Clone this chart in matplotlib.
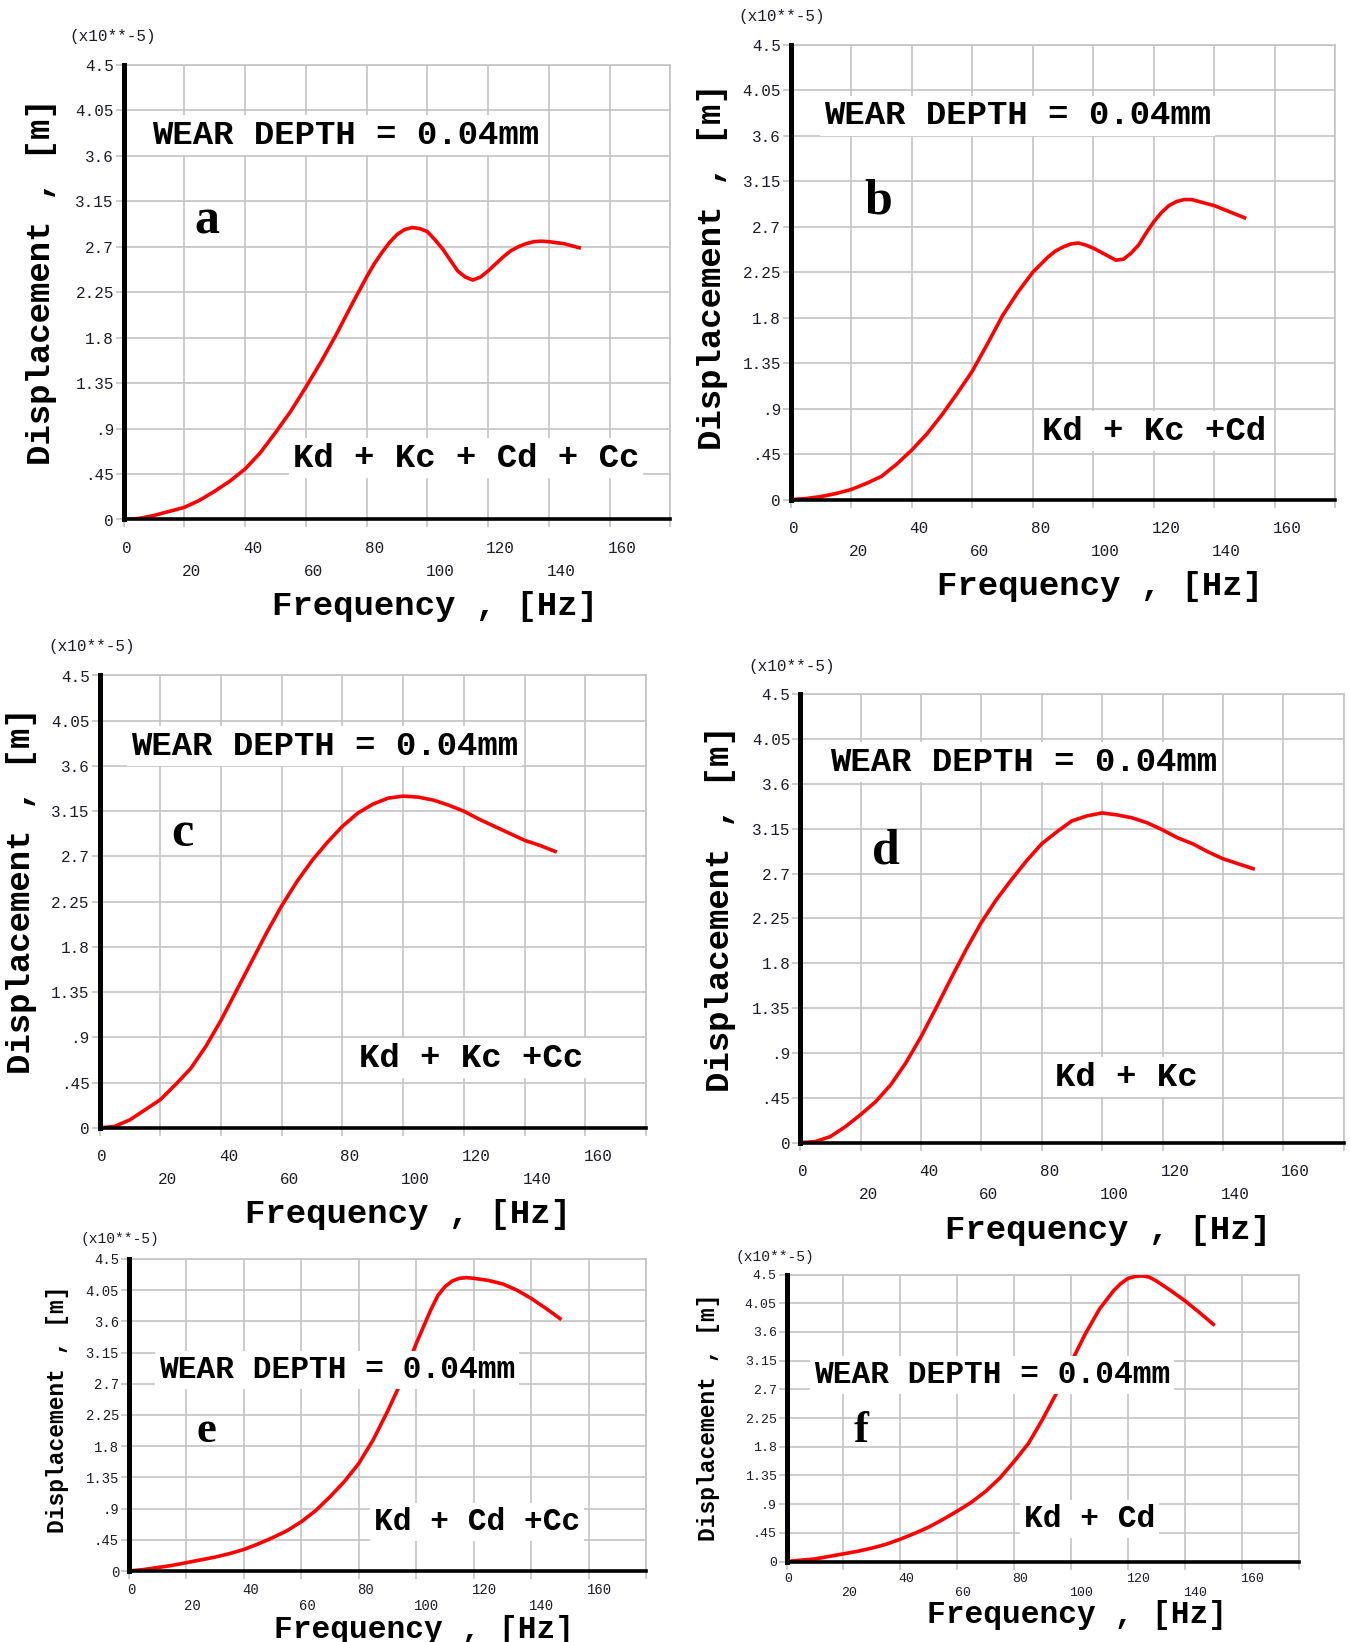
import matplotlib
matplotlib.use("Agg")
import matplotlib.pyplot as plt

W, H = 1350, 1642
MONO = "Liberation Mono"
SERIF = "Liberation Serif"
GRID = "#c4c4c4"
INK = "#1c1c28"

# frequency samples (Hz); denser where the curve bends
FREQ_HZ = [0, 5, 10, 15, 20, 25, 30, 35, 40, 45, 50, 55, 60, 65, 70, 75,
           80, 85, 90, 95, 100, 105, 110, 115, 120, 125, 130, 135, 140, 145, 150]
FREQ_A = [0, 5, 10, 15, 20, 25, 30, 35, 40, 45, 50, 55, 60, 65, 70, 75, 80,
          82.5, 85, 87.5, 90, 92.5, 95, 97.5, 100, 102.5, 105, 107.5, 110, 112.5, 115,
          117.5, 120, 122.5, 125, 127.5, 130, 132.5, 135, 137.5, 140, 145, 150]
FREQ_B = [0, 5, 10, 15, 20, 25, 30, 35, 40, 45, 50, 55, 60, 65, 70, 75, 80, 85,
          87.5, 90, 92.5, 95, 97.5, 100, 102.5, 105, 107.5, 110, 112.5, 115, 117.5,
          120, 122.5, 125, 127.5, 130, 132.5, 135, 140, 145, 150]
FREQ_E = [0, 5, 10, 15, 20, 25, 30, 35, 40, 45, 50, 55, 60, 65, 70, 75, 80, 85,
          90, 95, 100, 105, 107.5, 110, 112.5, 115, 117.5, 120, 125, 130, 135, 140, 145, 150]
FREQ_F = [0, 5, 10, 15, 20, 25, 30, 35, 40, 45, 50, 55, 60, 65, 70, 75, 80, 85,
          90, 95, 100, 105, 110, 115, 117.5, 120, 122.5, 125, 127.5, 130, 135, 140, 145, 150]

# displacement (x10**-5 m), one list per panel
DISP_A = [0, 0.01, 0.04, 0.08, 0.12, 0.19, 0.28, 0.38, 0.50, 0.66, 0.86, 1.07, 1.31, 1.56, 1.83, 2.12, 2.40,
          2.53, 2.64, 2.74, 2.82, 2.87, 2.89, 2.88, 2.85, 2.77, 2.68, 2.57, 2.46, 2.40, 2.37,
          2.40, 2.46, 2.53, 2.60, 2.66, 2.70, 2.73, 2.75, 2.755, 2.75, 2.73, 2.69]
DISP_B = [0, 0.01, 0.03, 0.06, 0.10, 0.16, 0.23, 0.35, 0.49, 0.65, 0.84, 1.05, 1.27, 1.54, 1.82, 2.05, 2.25, 2.40,
          2.46, 2.50, 2.53, 2.54, 2.52, 2.49, 2.45, 2.41, 2.37, 2.38, 2.44, 2.52, 2.64,
          2.75, 2.84, 2.91, 2.95, 2.97, 2.97, 2.95, 2.91, 2.85, 2.79]
DISP_C = [0, 0.015, 0.08, 0.18, 0.28, 0.43, 0.59, 0.81, 1.07, 1.36, 1.65, 1.94, 2.21, 2.45, 2.66, 2.84,
          3.00, 3.13, 3.22, 3.28, 3.30, 3.29, 3.26, 3.21, 3.15, 3.07, 3.00, 2.93, 2.86, 2.81, 2.75]
DISP_D = [0, 0.01, 0.06, 0.16, 0.28, 0.41, 0.58, 0.80, 1.06, 1.35, 1.65, 1.94, 2.21, 2.44, 2.64, 2.83,
          3.00, 3.12, 3.23, 3.28, 3.31, 3.29, 3.26, 3.21, 3.14, 3.06, 3.00, 2.92, 2.85, 2.80, 2.75]
DISP_E = [0, 0.02, 0.05, 0.08, 0.12, 0.16, 0.20, 0.25, 0.31, 0.39, 0.48, 0.58, 0.71, 0.87, 1.07, 1.29, 1.55, 1.89,
          2.30, 2.75, 3.28, 3.76, 3.97, 4.10, 4.18, 4.22, 4.23, 4.22, 4.19, 4.14, 4.05, 3.93, 3.79, 3.64]
DISP_F = [0, 0.02, 0.04, 0.08, 0.12, 0.16, 0.21, 0.27, 0.35, 0.44, 0.54, 0.66, 0.79, 0.93, 1.10, 1.31, 1.57, 1.85,
          2.23, 2.65, 3.12, 3.57, 3.96, 4.25, 4.36, 4.44, 4.47, 4.48, 4.46, 4.40, 4.25, 4.09, 3.91, 3.72]

LETTERS = ["a", "b", "c", "d", "e", "f"]
COMBOS = ["Kd + Kc + Cd + Cc", "Kd + Kc +Cd", "Kd + Kc +Cc", "Kd + Kc", "Kd + Cd +Cc", "Kd + Cd"]
WEAR_TEXT = "WEAR DEPTH = 0.04mm"

YTICKS = [0, 0.45, 0.9, 1.35, 1.8, 2.25, 2.7, 3.15, 3.6, 4.05, 4.5]
YTICK_LABELS = ["0", ".45", ".9", "1.35", "1.8", "2.25", "2.7", "3.15", "3.6", "4.05", "4.5"]
XGRID = [0, 20, 40, 60, 80, 100, 120, 140, 160, 180]
XTICK_LABELS = ["0", "20", "40", "60", "80", "100", "120", "140", "160"]

# pixel layout (top-left origin): axes box l,t,r,b and text anchors
LAYOUT = [
    dict(box=(123.6, 64.9, 670.3, 519.5), mult=(113, 37), wear=(152, 135), letter=(207, 222),
         combo=(293, 458), xlab=(435, 607), ylab=(42, 282), rows=(29, 52),
         big=24.5, ysize=24.5, tick=11.5, mult_size=11.5, let=36),
    dict(box=(790.7, 45.0, 1335.3, 499.6), mult=(782, 16), wear=(824, 116), letter=(878, 202),
         combo=(1042, 431), xlab=(1100, 587), ylab=(712, 267), rows=(29, 52),
         big=24.5, ysize=24.5, tick=11.5, mult_size=11.5, let=36),
    dict(box=(99.5, 675.5, 646.2, 1127.9), mult=(92, 646), wear=(131, 746), letter=(182, 834),
         combo=(359, 1058), xlab=(408, 1215), ylab=(22, 891), rows=(29, 52),
         big=24.5, ysize=24.5, tick=11.5, mult_size=11.5, let=36),
    dict(box=(800.1, 694.4, 1343.7, 1142.6), mult=(792, 666), wear=(830, 762), letter=(886, 851),
         combo=(1055, 1077), xlab=(1108, 1230), ylab=(720, 909), rows=(29, 52),
         big=24.5, ysize=24.5, tick=11.5, mult_size=11.5, let=36),
    dict(box=(128.8, 1258.9, 646.2, 1571.0), mult=(120, 1239), wear=(159, 1370), letter=(206, 1431),
         combo=(374, 1522), xlab=(424, 1630), ylab=(58, 1409), rows=(19, 35),
         big=22.5, ysize=16.5, tick=10, mult_size=10.5, let=32),
    dict(box=(786.5, 1274.6, 1298.7, 1561.5), mult=(775, 1257), wear=(814, 1375), letter=(861, 1431),
         combo=(1024, 1519), xlab=(1077, 1615), ylab=(708, 1417), rows=(17, 31),
         big=22.5, ysize=16.5, tick=9.5, mult_size=10.5, let=32),
]


def fx(x):
    return x / W


def fy(y):
    return 1 - y / H


def draw_panel(fig, freq, disp, letter, combo, lay):
    l, t, r, b = lay["box"]
    ax = fig.add_axes([fx(l), fy(b), (r - l) / W, (b - t) / H])
    ax.set_xlim(0, 180)
    ax.set_ylim(0, 4.5)
    ax.set_xticks(XGRID)
    ax.set_yticks(YTICKS)
    ax.set_yticklabels(YTICK_LABELS, family=MONO, fontsize=lay["tick"], color=INK)
    ax.tick_params(axis="both", direction="out", length=6, width=1.2, color=GRID, pad=1)
    ax.tick_params(axis="x", labelbottom=False)
    ax.set_axisbelow(True)
    ax.grid(True, color=GRID, lw=1.2)
    for side in ("top", "right"):
        ax.spines[side].set_color(GRID)
        ax.spines[side].set_linewidth(1.2)
    ax.spines["left"].set_linewidth(3.6)
    ax.spines["bottom"].set_linewidth(2.6)
    for side in ("left", "bottom"):
        ax.spines[side].set_color("black")
        ax.spines[side].set_zorder(4)

    ax.plot(freq, disp, color="#ff0000", lw=2.6, zorder=3, solid_joinstyle="round")

    # staggered frequency labels, left-aligned on their grid line
    for i, lab in enumerate(XTICK_LABELS):
        off = lay["rows"][i % 2]
        ax.annotate(lab, xy=(XGRID[i], 0), xycoords=("data", "axes fraction"),
                    xytext=(-2, -off), textcoords="offset pixels", ha="left", va="center",
                    family=MONO, fontsize=lay["tick"], color=INK)

    box = dict(boxstyle="square,pad=0.12", fc="white", ec="none")
    fig.text(fx(lay["mult"][0]), fy(lay["mult"][1]), "(x10**-5)", ha="center", va="center",
             family=MONO, fontsize=lay["mult_size"], color=INK)
    fig.text(fx(lay["wear"][0]), fy(lay["wear"][1]), WEAR_TEXT, ha="left", va="center",
             family=MONO, weight="bold", fontsize=lay["big"], bbox=box, zorder=10)
    fig.text(fx(lay["combo"][0]), fy(lay["combo"][1]), combo, ha="left", va="center",
             family=MONO, weight="bold", fontsize=lay["big"], bbox=box, zorder=10)
    fig.text(fx(lay["letter"][0]), fy(lay["letter"][1]), letter, ha="center", va="center",
             family=SERIF, weight="bold", fontsize=lay["let"], zorder=10)
    fig.text(fx(lay["xlab"][0]), fy(lay["xlab"][1]), "Frequency , [Hz]", ha="center", va="center",
             family=MONO, weight="bold", fontsize=lay["big"])
    fig.text(fx(lay["ylab"][0]), fy(lay["ylab"][1]), "Displacement , [m]", ha="center", va="center",
             rotation=90, family=MONO, weight="bold", fontsize=lay["ysize"])
    return ax


def main():
    fig = plt.figure(figsize=(W / 100, H / 100), dpi=100)
    fig.patch.set_facecolor("white")
    freqs = [FREQ_A, FREQ_B, FREQ_HZ, FREQ_HZ, FREQ_E, FREQ_F]
    series = [DISP_A, DISP_B, DISP_C, DISP_D, DISP_E, DISP_F]
    for freq, disp, letter, combo, lay in zip(freqs, series, LETTERS, COMBOS, LAYOUT):
        draw_panel(fig, freq, disp, letter, combo, lay)
    fig.savefig("out.png", dpi=100, facecolor="white")


if __name__ == "__main__":
    main()
